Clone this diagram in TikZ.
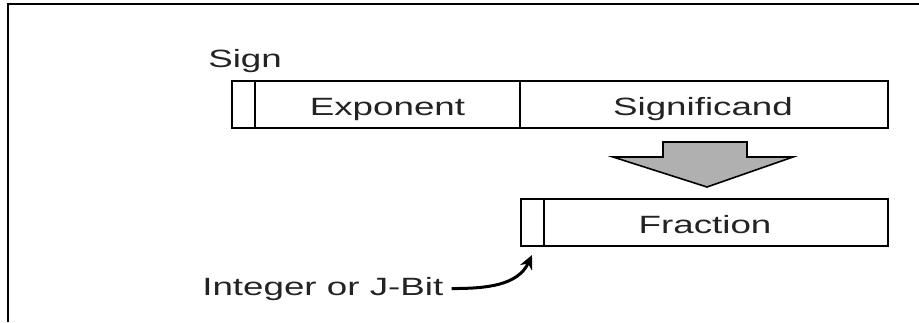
\documentclass[tikz,border=0pt]{standalone}
\usepackage{fontspec}
\setmainfont{Liberation Sans}
\usetikzlibrary{arrows.meta}
\definecolor{mygray}{RGB}{176,176,176}
\definecolor{mytext}{RGB}{35,35,35}

\begin{document}
\begin{tikzpicture}[x=1pt,y=-1pt,
  field/.style={draw,line width=1.3pt,inner sep=0pt,outer sep=0pt,minimum height=47pt,anchor=north west},
  lbl/.style={text=mytext,font=\fontsize{25}{29}\selectfont,xscale=1.47,inner sep=0pt}]
  \useasboundingbox (0,0) rectangle (919,322);

  % Frame
  \draw[line width=2pt] (8,322) -- (8,3.5) -- (919,3.5);

  % Single precision fields
  \node[field,minimum width=23pt] (sign) at (232,81) {};
  \node[field,minimum width=265pt] (exp) at (sign.north east) {};
  \node[field,minimum width=368pt] (sig) at (exp.north east) {};
  \node[lbl,anchor=base west] (signtxt) at (208,67) {Sign};
  \node[lbl,anchor=base] (exptxt) at (387.5,115) {Exponent};
  \node[lbl,anchor=base] (sigtxt) at (703,115) {Significand};

  % Gray arrow
  \draw[line width=1.6pt,fill=mygray,line join=miter]
    (663,142) -- (747,142) -- (747,157) -- (793,157) -- (707,187)
    -- (613,157) -- (663,157) -- cycle;

  % Extended fields
  \node[field,minimum width=23pt] (jbit) at (521,199) {};
  \node[field,minimum width=344pt] (frac) at (jbit.north east) {};
  \node[lbl,anchor=base] (fractxt) at (705,233) {Fraction};

  % Annotation
  \node[lbl,anchor=base west] (int) at (202,295) {Integer or J-Bit};
  \draw[-{Stealth[length=14pt,width=13pt]},line width=3pt]
    ([xshift=8pt]int.east) to[out=0,in=-115] ([xshift=11pt,yshift=-9pt]jbit.south west);
\end{tikzpicture}
\end{document}
